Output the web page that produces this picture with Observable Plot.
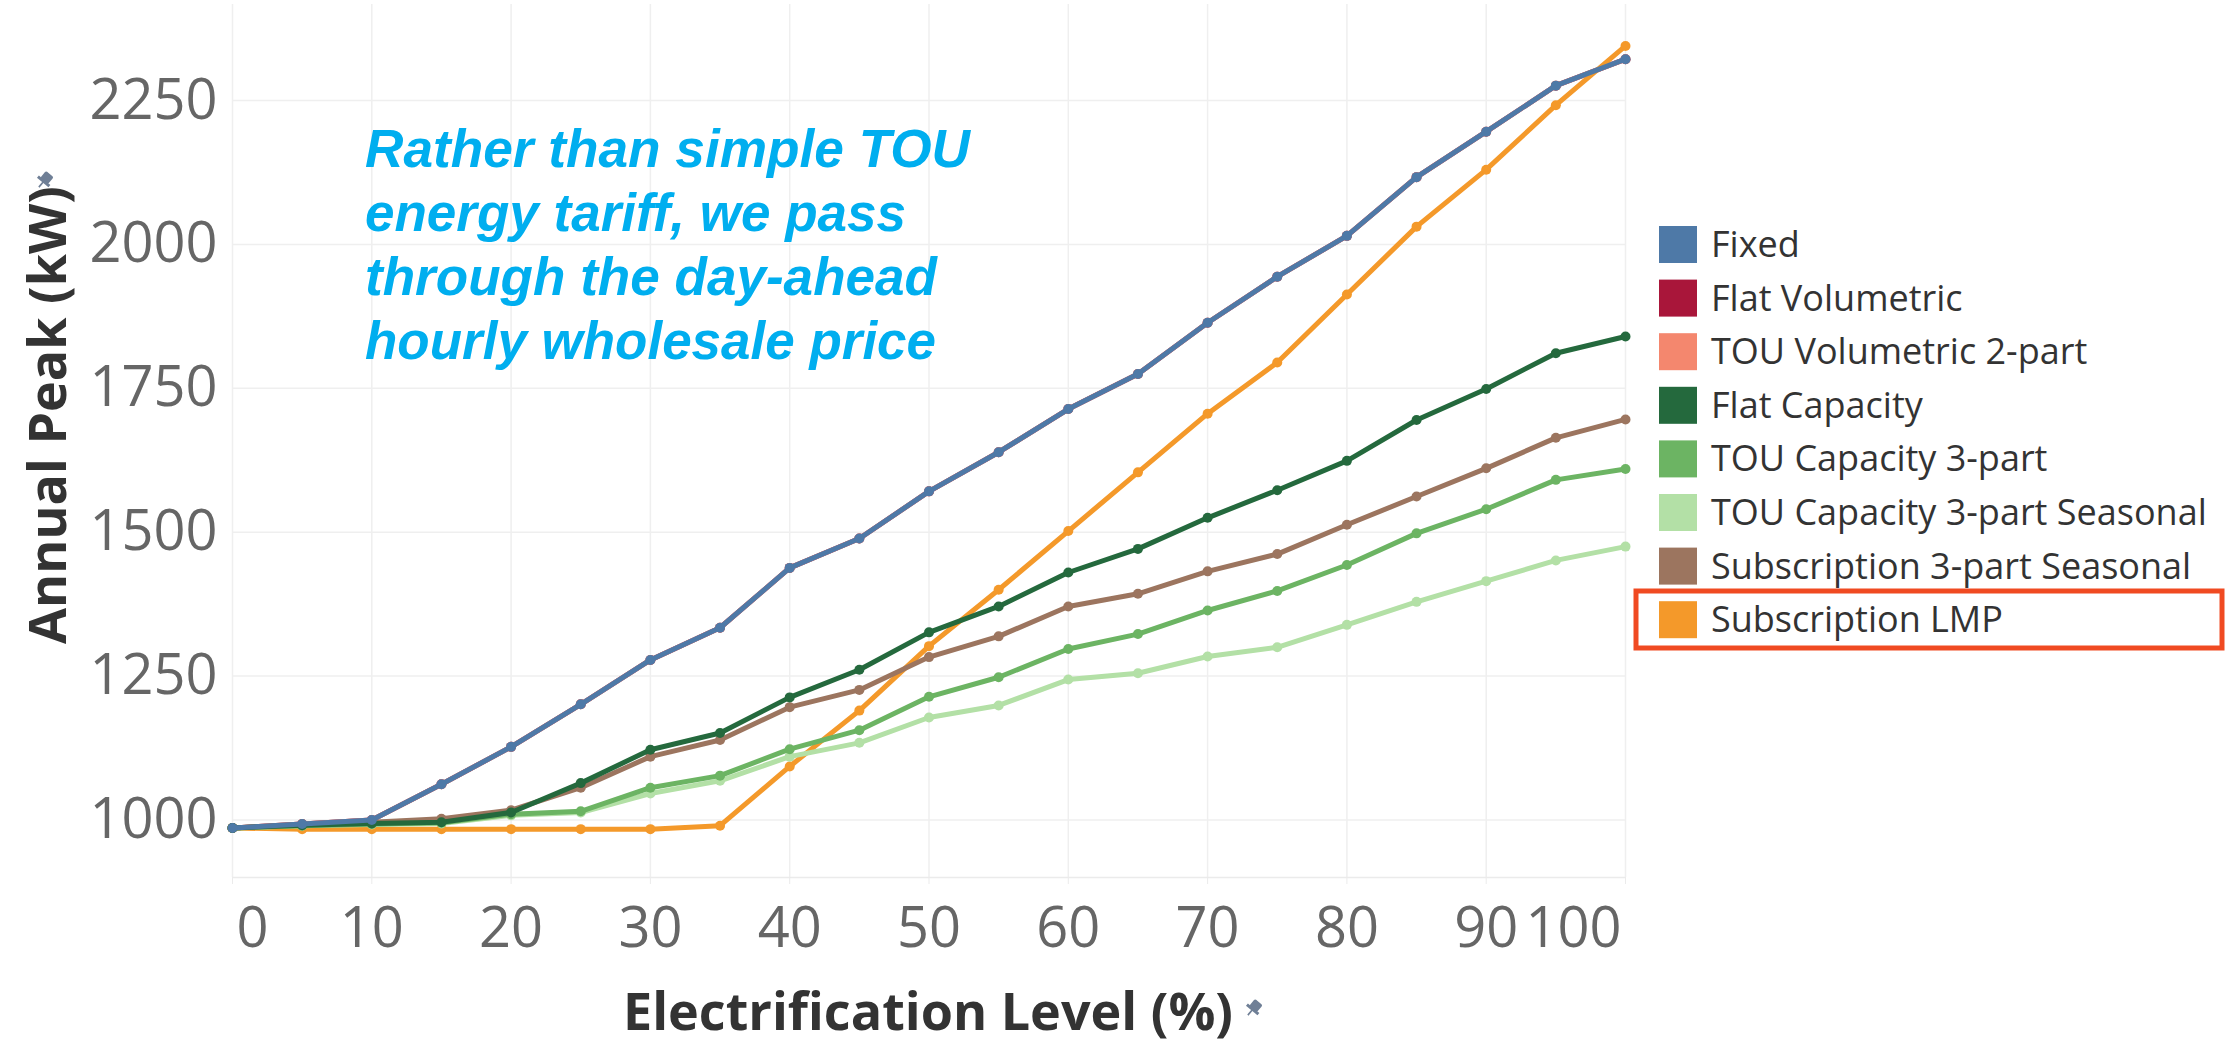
<!DOCTYPE html>
<html>
<head>
<meta charset="utf-8">
<script src="https://cdn.jsdelivr.net/npm/d3@7"></script>
<script src="https://cdn.jsdelivr.net/npm/@observablehq/plot@0.6"></script>
<style>
  html, body { margin: 0; padding: 0; background: #fff; }
  #wrap { position: relative; width: 2227px; height: 1045px; overflow: hidden; }
  #wrap > svg { position: absolute; left: 0; top: 0; }
  #overlay { pointer-events: none; }
</style>
</head>
<body>
<div id="wrap"></div>
<script>
// Electrification level (%) on the x axis
const levels = [0, 5, 10, 15, 20, 25, 30, 35, 40, 45, 50, 55, 60, 65, 70, 75, 80, 85, 90, 95, 100];

// Annual peak (kW) for each tariff design
const fixed            = [986, 993, 1000, 1062, 1127, 1201, 1278, 1334, 1438, 1489, 1571, 1639, 1714, 1775, 1864, 1944, 2015, 2117, 2196, 2276, 2322];
const flatVolumetric   = [986, 993, 1000, 1062, 1127, 1201, 1278, 1334, 1438, 1489, 1571, 1639, 1714, 1775, 1864, 1944, 2015, 2117, 2196, 2276, 2322];
const touVolumetric2   = [986, 993, 1000, 1062, 1127, 1201, 1278, 1334, 1438, 1489, 1571, 1639, 1714, 1775, 1864, 1944, 2015, 2117, 2196, 2276, 2322];
const flatCapacity     = [986, 991, 994, 996, 1013, 1064, 1122, 1151, 1213, 1261, 1326, 1371, 1430, 1471, 1525, 1573, 1624, 1695, 1749, 1811, 1840];
const touCapacity3     = [986, 990, 993, 995, 1010, 1015, 1056, 1077, 1123, 1156, 1214, 1248, 1297, 1323, 1364, 1398, 1443, 1498, 1540, 1591, 1610];
const touCapacity3Seas = [986, 990, 992, 994, 1008, 1013, 1046, 1068, 1110, 1134, 1178, 1199, 1244, 1255, 1284, 1300, 1339, 1379, 1415, 1451, 1475];
const subscription3    = [986, 992, 996, 1002, 1017, 1056, 1110, 1139, 1196, 1226, 1283, 1319, 1371, 1393, 1432, 1462, 1513, 1562, 1611, 1664, 1696];
const subscriptionLMP  = [986, 984, 984, 984, 984, 984, 984, 990, 1093, 1190, 1302, 1400, 1502, 1604, 1706, 1795, 1913, 2031, 2130, 2242, 2345];

// Legend order and colours
const tariffNames = ["Fixed", "Flat Volumetric", "TOU Volumetric 2-part", "Flat Capacity",
  "TOU Capacity 3-part", "TOU Capacity 3-part Seasonal", "Subscription 3-part Seasonal", "Subscription LMP"];
const tariffColors = ["#4e79a7", "#a9163a", "#f4876e", "#24693d", "#6cb463", "#b3e0a6", "#9c755f", "#f4992a"];
const tariffValues = [fixed, flatVolumetric, touVolumetric2, flatCapacity, touCapacity3, touCapacity3Seas, subscription3, subscriptionLMP];

// Ticks
const xTicks = [0, 10, 20, 30, 40, 50, 60, 70, 80, 90, 100];
const xTicksInner = [10, 20, 30, 40, 50, 60, 70, 80, 90];
const yTicks = [1000, 1250, 1500, 1750, 2000, 2250];

// Lines are stacked so that Fixed sits on top (the two volumetric designs share its path)
const drawOrder = ["Flat Volumetric", "TOU Volumetric 2-part", "Subscription LMP", "TOU Capacity 3-part Seasonal",
  "TOU Capacity 3-part", "Subscription 3-part Seasonal", "Flat Capacity", "Fixed"];

const rows = tariffNames.flatMap((name, k) =>
  levels.map((level, i) => ({tariff: name, level, peak: tariffValues[k][i]})));

const seriesMarks = drawOrder.flatMap(name => {
  const d = rows.filter(r => r.tariff === name);
  return [
    Plot.line(d, {x: "level", y: "peak", stroke: "tariff", strokeWidth: 5, strokeLinejoin: "round", strokeLinecap: "round"}),
    Plot.dot(d, {x: "level", y: "peak", fill: "tariff", r: 5, stroke: "none"})
  ];
});

const tickText = {fill: "#666", fontSize: 56, label: null, tickFormat: d => String(d)};

const chart = Plot.plot({
  width: 2227,
  height: 1045,
  marginLeft: 232,
  marginRight: 602,
  marginTop: 4,
  marginBottom: 168,
  style: {fontFamily: "'Open Sans', 'Noto Sans', sans-serif", background: "transparent", overflow: "visible"},
  x: {domain: [0, 100], label: null},
  y: {domain: [900, 2417], label: null},
  color: {domain: tariffNames, range: tariffColors},
  marks: [
    Plot.gridX(xTicks, {stroke: "#efefef", strokeOpacity: 1, strokeWidth: 1.5}),
    Plot.gridY(yTicks, {stroke: "#efefef", strokeOpacity: 1, strokeWidth: 1.5}),
    Plot.ruleY([900], {stroke: "#ebebeb", strokeWidth: 1.5}),
    Plot.axisX(xTicks, {tickSize: 7, tickPadding: 23, stroke: "#ebebeb", text: null, label: null}),
    Plot.axisX(xTicksInner, {...tickText, tickSize: 0, tickPadding: 30}),
    Plot.axisX([0], {...tickText, tickSize: 0, tickPadding: 30, textAnchor: "start", dx: 4}),
    Plot.axisX([100], {...tickText, tickSize: 0, tickPadding: 30, textAnchor: "end", dx: -4}),
    Plot.axisY(yTicks, {...tickText, tickSize: 0, tickPadding: 15}),
    ...seriesMarks
  ]
});
document.getElementById("wrap").appendChild(chart);

// Titles, annotation and legend drawn on a layer above the chart
const ov = d3.select("#wrap").append("svg")
  .attr("id", "overlay")
  .attr("width", 2227).attr("height", 1045);

const pin = (x, y) => {
  const g = ov.append("g").attr("transform", `translate(${x},${y}) rotate(40)`).attr("fill", "#6f7f96");
  g.append("rect").attr("x", -5).attr("y", -9).attr("width", 10).attr("height", 9).attr("rx", 1.5);
  g.append("rect").attr("x", -7.5).attr("y", -1).attr("width", 15).attr("height", 3);
  g.append("rect").attr("x", -0.8).attr("y", 1).attr("width", 1.6).attr("height", 7);
};

// y axis title
ov.append("text")
  .attr("transform", "translate(66,415) rotate(-90)")
  .attr("text-anchor", "middle")
  .attr("font-family", "'Open Sans', sans-serif").attr("font-weight", 700)
  .attr("font-size", 52).attr("fill", "#333")
  .attr("textLength", 458).attr("lengthAdjust", "spacingAndGlyphs")
  .text("Annual Peak (kW)");
pin(44, 181);

// x axis title
ov.append("text")
  .attr("x", 928).attr("y", 1030)
  .attr("text-anchor", "middle")
  .attr("font-family", "'Open Sans', sans-serif").attr("font-weight", 700)
  .attr("font-size", 52).attr("fill", "#333")
  .attr("textLength", 610).attr("lengthAdjust", "spacingAndGlyphs")
  .text("Electrification Level (%)");
pin(1253, 1009);

// annotation
const note = ["Rather than simple TOU", "energy tariff, we pass", "through the day-ahead", "hourly wholesale price"];
const noteWidths = [605, 541, 572, 571];
note.forEach((line, i) => {
  ov.append("text")
    .attr("x", 365).attr("y", 167 + i * 64)
    .attr("font-family", "'Liberation Sans', Arial, sans-serif")
    .attr("font-weight", 700).attr("font-style", "italic")
    .attr("font-size", 53).attr("fill", "#00aeef")
    .attr("textLength", noteWidths[i]).attr("lengthAdjust", "spacingAndGlyphs")
    .text(line);
});

// legend
tariffNames.forEach((name, i) => {
  const top = 226 + i * 53.6;
  ov.append("rect")
    .attr("x", 1659).attr("y", top).attr("width", 38).attr("height", 37)
    .attr("fill", tariffColors[i]);
  ov.append("text")
    .attr("x", 1711).attr("y", top + 31)
    .attr("font-family", "'Open Sans', sans-serif").attr("font-weight", 500)
    .attr("font-size", 36).attr("fill", "#333")
    .text(name);
});

// highlight box around the LMP entry
ov.append("rect")
  .attr("x", 1636).attr("y", 591).attr("width", 586).attr("height", 57)
  .attr("fill", "none").attr("stroke", "#f04a22").attr("stroke-width", 5);
</script>
</body>
</html>
